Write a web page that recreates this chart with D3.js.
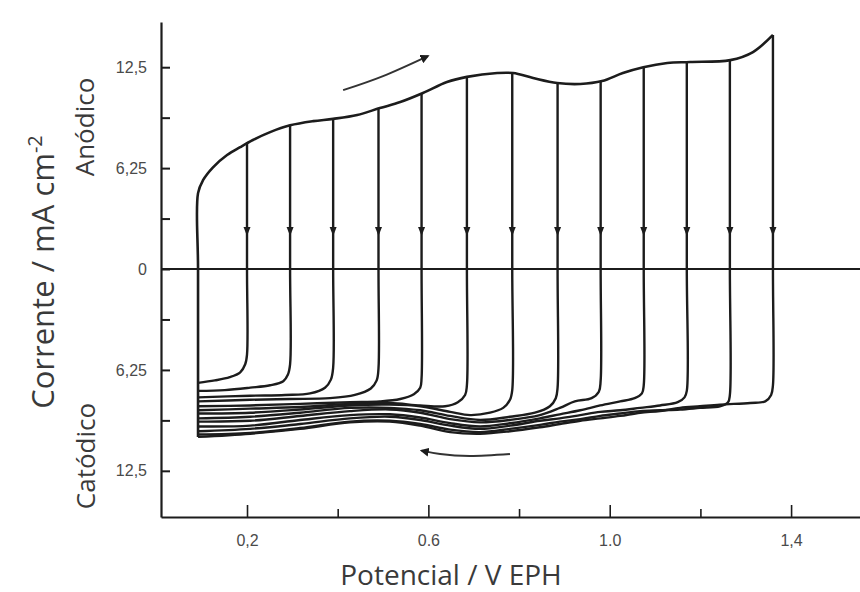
<!DOCTYPE html>
<html>
<head>
<meta charset="utf-8">
<script src="https://cdn.jsdelivr.net/npm/d3@7"></script>
<style>
  body { margin: 0; background: #fff; }
  svg { display: block; }
  .tick text { font-family: "Liberation Sans", sans-serif; font-size: 16px; fill: #4a4a4a; }
  .title { font-family: "Open Sans", sans-serif; fill: #3a3a3a; }
</style>
</head>
<body>
<svg id="chart"></svg>
<script>
// Axis ticks
const xTicks = [0.2, 0.4, 0.6, 0.8, 1.0, 1.2, 1.4];
const xTickLabels = ["0,2", "", "0.6", "", "1.0", "", "1,4"];
const yTicks = [-12.5, -9.375, -6.25, -3.125, 0, 3.125, 6.25, 9.375, 12.5];
const yTickLabels = ["12,5", "", "6,25", "", "0", "", "6,25", "", "12,5"];

// Anodic sweep (V, mA cm-2)
const anodic = [
  [0.092, -10.4], [0.092, 0], [0.092, 4.7], [0.103, 5.5], [0.125, 6.3], [0.156, 7.06],
  [0.185, 7.55], [0.213, 7.99], [0.251, 8.48], [0.295, 8.9], [0.346, 9.16], [0.39, 9.3],
  [0.443, 9.54], [0.493, 9.97], [0.538, 10.34], [0.588, 10.9], [0.641, 11.58], [0.685, 11.9],
  [0.752, 12.14], [0.787, 12.14], [0.831, 11.83], [0.884, 11.52], [0.935, 11.46],
  [0.983, 11.64], [1.029, 12.14], [1.074, 12.5], [1.127, 12.76], [1.177, 12.82],
  [1.266, 12.94], [1.316, 13.44], [1.36, 14.5]
];

// Reversal potentials and current where each reverse scan starts
const reversal = [0.2, 0.295, 0.39, 0.49, 0.585, 0.685, 0.785, 0.885, 0.98, 1.075, 1.17, 1.265, 1.36];
const reversalTop = [7.8, 8.9, 9.3, 9.95, 10.85, 11.9, 12.15, 11.5, 11.6, 12.5, 12.8, 12.95, 14.5];

// Cathodic (reverse) branches, one per reversal potential
const cathodic = [
  [[0.2,-5.3],[0.196,-5.9],[0.185,-6.4],[0.162,-6.7],[0.129,-6.9],[0.092,-7.05]],
  [[0.295,-5.9],[0.29,-6.55],[0.28,-6.95],[0.251,-7.2],[0.207,-7.35],[0.151,-7.5],[0.092,-7.55]],
  [[0.39,-6.1],[0.385,-6.85],[0.372,-7.35],[0.339,-7.7],[0.284,-7.8],[0.207,-7.85],[0.092,-7.95]],
  [[0.49,-6.15],[0.486,-6.9],[0.473,-7.4],[0.438,-7.8],[0.383,-8.0],[0.295,-8.05],[0.207,-8.1],[0.092,-8.2]],
  [[0.585,-6.75],[0.582,-7.35],[0.568,-7.75],[0.538,-8.05],[0.493,-8.2],[0.427,-8.25],[0.317,-8.35],[0.207,-8.45],[0.092,-8.5]],
  [[0.685,-7.2],[0.681,-7.8],[0.665,-8.25],[0.637,-8.5],[0.582,-8.45],[0.515,-8.3],[0.427,-8.35],[0.317,-8.55],[0.207,-8.65],[0.092,-8.75]],
  [[0.785,-7.5],[0.78,-8.1],[0.765,-8.6],[0.736,-8.9],[0.692,-9.05],[0.648,-8.85],[0.582,-8.5],[0.515,-8.4],[0.427,-8.45],[0.317,-8.7],[0.207,-8.9],[0.092,-8.95]],
  [[0.885,-7.35],[0.881,-8.0],[0.868,-8.5],[0.835,-8.9],[0.78,-9.15],[0.714,-9.35],[0.648,-9.1],[0.582,-8.75],[0.515,-8.6],[0.427,-8.6],[0.317,-8.9],[0.207,-9.15],[0.092,-9.25]],
  [[0.98,-6.9],[0.976,-7.6],[0.96,-8.0],[0.923,-8.2],[0.89,-8.6],[0.846,-9.05],[0.78,-9.35],[0.714,-9.5],[0.648,-9.3],[0.582,-8.9],[0.515,-8.7],[0.427,-8.8],[0.317,-9.1],[0.207,-9.4],[0.092,-9.45]],
  [[1.075,-7.2],[1.071,-7.7],[1.055,-8.0],[1.023,-8.2],[0.979,-8.45],[0.935,-8.75],[0.89,-9.0],[0.846,-9.25],[0.78,-9.55],[0.714,-9.75],[0.648,-9.55],[0.582,-9.2],[0.515,-9.0],[0.427,-9.05],[0.317,-9.35],[0.207,-9.7],[0.092,-9.75]],
  [[1.17,-7.55],[1.165,-7.95],[1.15,-8.25],[1.111,-8.45],[1.067,-8.6],[1.023,-8.75],[0.979,-8.85],[0.935,-9.05],[0.89,-9.25],[0.846,-9.4],[0.78,-9.7],[0.714,-9.9],[0.648,-9.7],[0.582,-9.35],[0.515,-9.15],[0.427,-9.25],[0.317,-9.6],[0.207,-9.9],[0.092,-10.05]],
  [[1.265,-7.8],[1.261,-8.25],[1.243,-8.5],[1.199,-8.6],[1.155,-8.7],[1.111,-8.75],[1.067,-8.8],[1.023,-8.95],[0.979,-9.1],[0.935,-9.3],[0.89,-9.45],[0.846,-9.65],[0.78,-9.9],[0.714,-10.1],[0.648,-9.95],[0.582,-9.6],[0.515,-9.4],[0.427,-9.45],[0.317,-9.85],[0.207,-10.15],[0.092,-10.25]],
  [[1.36,-7.2],[1.356,-7.8],[1.343,-8.2],[1.31,-8.3],[1.243,-8.4],[1.199,-8.5],[1.155,-8.6],[1.111,-8.8],[1.067,-8.9],[1.023,-9.1],[0.979,-9.25],[0.935,-9.4],[0.89,-9.6],[0.846,-9.8],[0.78,-10.05],[0.714,-10.2],[0.648,-10.1],[0.582,-9.7],[0.515,-9.45],[0.427,-9.5],[0.317,-9.9],[0.207,-10.2],[0.092,-10.4]]
];

// Current at which the small arrows sit on the reverse lines
const arrowCurrent = 2.3;

// Scan direction arrows
const forwardArrow = [[0.412, 11.08], [0.5, 11.95], [0.599, 13.19]];
const backwardArrow = [[0.78, -11.46], [0.692, -11.58], [0.626, -11.46], [0.585, -11.25]];

const width = 860;
const height = 592;

const x = d3.scaleLinear().domain([0.0103, 1.552]).range([161, 860]);
const y = d3.scaleLinear().domain([-15.36, 15.3]).range([517, 22]);

const svg = d3.select("#chart")
  .attr("width", width)
  .attr("height", height);

const ink = "#1c1c1c";

// arrow head marker
svg.append("defs").append("marker")
  .attr("id", "head")
  .attr("viewBox", "0 0 10 10")
  .attr("refX", 8).attr("refY", 5)
  .attr("markerWidth", 9).attr("markerHeight", 9)
  .attr("markerUnits", "userSpaceOnUse")
  .attr("orient", "auto")
  .append("path")
  .attr("d", "M0,0 L10,5 L0,10 Z")
  .attr("fill", ink);

// Axes
const xAxis = d3.axisBottom(x)
  .tickValues(xTicks)
  .tickSizeInner(-12)
  .tickSizeOuter(0)
  .tickPadding(18)
  .tickFormat((d, i) => xTickLabels[i]);

const yAxis = d3.axisLeft(y)
  .tickValues(yTicks)
  .tickSizeInner(-9)
  .tickSizeOuter(0)
  .tickPadding(14)
  .tickFormat((d, i) => yTickLabels[i]);

const gx = svg.append("g")
  .attr("transform", `translate(0,${y.range()[0]})`)
  .call(xAxis);
gx.select(".domain").attr("stroke", ink).attr("stroke-width", 2.2);
gx.selectAll(".tick line").attr("stroke", ink).attr("stroke-width", 1.6)
  .attr("y2", (d, i) => xTickLabels[i] ? -12 : -8);

const gy = svg.append("g")
  .attr("transform", `translate(${x.range()[0]},0)`)
  .call(yAxis);
gy.select(".domain").attr("stroke", ink).attr("stroke-width", 2.2);
gy.selectAll(".tick line").attr("stroke", ink).attr("stroke-width", 2);

// Zero line
svg.append("line")
  .attr("x1", x.range()[0]).attr("x2", x.range()[1])
  .attr("y1", y(0)).attr("y2", y(0))
  .attr("stroke", ink).attr("stroke-width", 2.2);

const line = d3.line()
  .x(d => x(d[0]))
  .y(d => y(d[1]))
  .curve(d3.curveCatmullRom.alpha(0.5));

// Reverse scans
const reverse = reversal.map((e, i) => [[e, reversalTop[i]], [e, 0]].concat(cathodic[i]));
svg.append("g")
  .selectAll("path")
  .data(reverse)
  .join("path")
  .attr("d", line)
  .attr("fill", "none")
  .attr("stroke", ink)
  .attr("stroke-width", 2.4)
  .attr("stroke-linejoin", "round");

// Anodic envelope
svg.append("path")
  .datum(anodic)
  .attr("d", line)
  .attr("fill", "none")
  .attr("stroke", ink)
  .attr("stroke-width", 2.6)
  .attr("stroke-linejoin", "round");

// Small arrows pointing down on each reverse line
svg.append("g")
  .selectAll("path")
  .data(reversal)
  .join("path")
  .attr("d", d => {
    const cx = x(d), cy = y(arrowCurrent);
    return `M${cx - 3.5},${cy - 5} L${cx + 3.5},${cy - 5} L${cx},${cy + 4} Z`;
  })
  .attr("fill", ink);

// Scan direction arrows
const arrowLine = d3.line()
  .x(d => x(d[0]))
  .y(d => y(d[1]))
  .curve(d3.curveNatural);

svg.append("path")
  .datum(forwardArrow)
  .attr("d", arrowLine)
  .attr("fill", "none")
  .attr("stroke", "#333")
  .attr("stroke-width", 2)
  .attr("marker-end", "url(#head)");

svg.append("path")
  .datum(backwardArrow)
  .attr("d", arrowLine)
  .attr("fill", "none")
  .attr("stroke", "#333")
  .attr("stroke-width", 2)
  .attr("marker-end", "url(#head)");

// Titles
svg.append("text")
  .attr("class", "title")
  .attr("x", 451)
  .attr("y", 585)
  .attr("text-anchor", "middle")
  .style("font-size", "28px")
  .text("Potencial / V EPH");

const yTitle = svg.append("text")
  .attr("class", "title")
  .attr("transform", "translate(54,272) rotate(-90)")
  .attr("text-anchor", "middle")
  .style("font-size", "31px");
yTitle.append("tspan").text("Corrente / mA cm");
yTitle.append("tspan").attr("dy", -12).style("font-size", "20px").text("-2");

svg.append("text")
  .attr("class", "title")
  .attr("transform", "translate(94,127) rotate(-90)")
  .attr("text-anchor", "middle")
  .style("font-size", "26px")
  .text("Anódico");

svg.append("text")
  .attr("class", "title")
  .attr("transform", "translate(95,456) rotate(-90)")
  .attr("text-anchor", "middle")
  .style("font-size", "26px")
  .text("Catódico");
</script>
</body>
</html>
